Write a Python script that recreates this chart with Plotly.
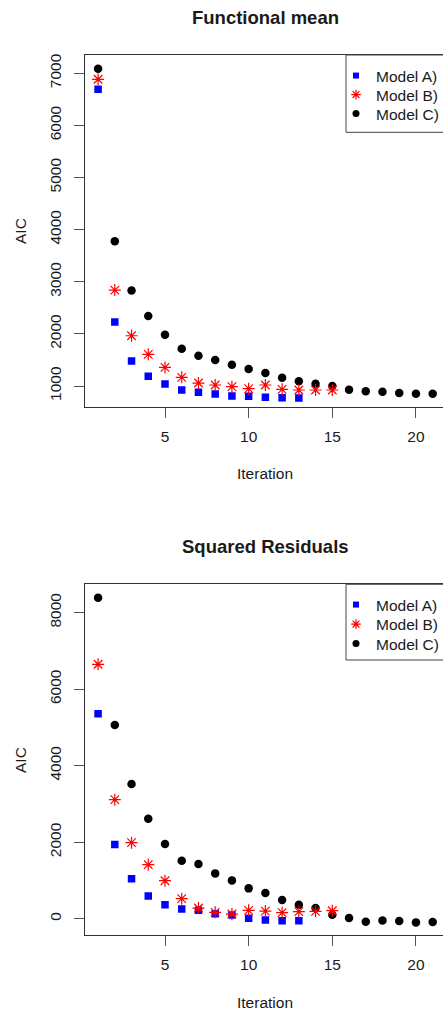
import plotly.graph_objects as go

# ---------------- data ----------------
iter_a = list(range(1, 14))
iter_b = list(range(1, 16))
iter_c = list(range(1, 22))

fm_a = [6693, 2226, 1479, 1185, 1038, 923, 879, 847, 808, 802, 783, 776, 770]
fm_b = [6885, 2840, 1964, 1607, 1357, 1166, 1057, 1019, 987, 949, 1019, 936, 923, 923, 923]
fm_c = [7088, 3778, 2833, 2341, 1983, 1715, 1581, 1498, 1409, 1326, 1249, 1160,
        1089, 1044, 1000, 930, 898, 891, 866, 853, 853]

sr_a = [5360, 1943, 1046, 592, 366, 253, 218, 131, 96, 9, -35, -52, -52]
sr_b = [6651, 3111, 1987, 1412, 993, 523, 279, 166, 122, 218, 200, 157, 183, 192, 209]
sr_c = [8392, 5064, 3521, 2614, 1952, 1516, 1429, 1185, 1002, 793, 671, 488, 366,
        279, 105, 17, -78, -44, -61, -96, -87]

model_names = ["Model A)", "Model B)", "Model C)"]
titles = ["Functional mean", "Squared Residuals"]
x_ticks = [5, 10, 15, 20]
y_ticks_top = [1000, 2000, 3000, 4000, 5000, 6000, 7000]
y_ticks_bot = [0, 2000, 4000, 6000, 8000]

# ---------------- styling ----------------
W, H = 443, 1015
FONT = "Liberation Sans, Arial, sans-serif"
TXT = "#1a1a1a"
BLUE, RED, BLACK = "#0000ff", "#ff0000", "#000000"

def px_x(p):
    return p / W

def px_y(p):
    return 1 - p / H

fig = go.Figure()

legend_specs = [dict(symbol="square", size=6, color=BLUE),
                dict(symbol="asterisk-open", size=8, color=RED, line=dict(color=RED, width=1.2)),
                dict(symbol="circle", size=7, color=BLACK)]

def add_panel(xa, ya, a, b, c, legend_ids):
    fig.add_trace(go.Scatter(x=iter_c, y=c, mode="markers", xaxis=xa, yaxis=ya,
                             marker=dict(symbol="circle", size=8.5, color=BLACK),
                             showlegend=False))
    fig.add_trace(go.Scatter(x=iter_a, y=a, mode="markers", xaxis=xa, yaxis=ya,
                             marker=dict(symbol="square", size=7.5, color=BLUE),
                             showlegend=False))
    fig.add_trace(go.Scatter(x=iter_b, y=b, mode="markers", xaxis=xa, yaxis=ya,
                             marker=dict(symbol="asterisk-open", size=10,
                                         color=RED, line=dict(color=RED, width=1.2)),
                             showlegend=False))
    # legend entries (one legend per row, for R-like row spacing)
    for name, m, lid in zip(model_names, legend_specs, legend_ids):
        fig.add_trace(go.Scatter(x=[None], y=[None], mode="markers", xaxis=xa, yaxis=ya,
                                 marker=m, name=name, legend=lid, showlegend=True))

top_legends = ["legend", "legend2", "legend3"]
bot_legends = ["legend4", "legend5", "legend6"]
add_panel("x", "y", fm_a, fm_b, fm_c, top_legends)
add_panel("x2", "y2", sr_a, sr_b, sr_c, bot_legends)

x_left = 84.7
x_dom = [px_x(x_left), 1.0]
x_range = [0.2, 0.2 + (W - x_left) / 16.73]

top_px = (55, 407)
bot_px = (584.3, 935)

axis_common = dict(showline=True, linecolor="#333333", linewidth=1,
                   ticks="outside", ticklen=10, tickcolor="#555555", tickwidth=1,
                   showgrid=False, zeroline=False,
                   tickfont=dict(family=FONT, size=15.5, color=TXT))

legend_common = dict(xanchor="left", yanchor="top",
                     bgcolor="rgba(0,0,0,0)", borderwidth=0,
                     font=dict(family=FONT, size=15.5, color=TXT), tracegroupgap=0,
                     itemsizing="trace")

layout_legends = {}
for lid, row in zip(top_legends, [75, 94, 113]):
    layout_legends[lid] = dict(x=px_x(336), y=px_y(row - 16), **legend_common)
for lid, row in zip(bot_legends, [604, 623.5, 643]):
    layout_legends[lid] = dict(x=px_x(336), y=px_y(row - 16), **legend_common)

fig.update_layout(
    width=W, height=H,
    margin=dict(l=0, r=0, t=0, b=0, autoexpand=False),
    paper_bgcolor="white", plot_bgcolor="white",
    template="none",
    xaxis=dict(domain=x_dom, range=x_range, anchor="y", tickvals=x_ticks,
               mirror=True, ticklabelstandoff=5, **axis_common),
    yaxis=dict(domain=[px_y(top_px[1]), px_y(top_px[0])], range=[597, 7351],
               anchor="x", tickvals=y_ticks_top, tickangle=-90, ticklabelstandoff=7,
               **axis_common),
    xaxis2=dict(domain=x_dom, range=x_range, anchor="y2", tickvals=x_ticks,
                mirror=True, ticklabelstandoff=5, **axis_common),
    yaxis2=dict(domain=[px_y(bot_px[1]), px_y(bot_px[0])], range=[-426, 8742],
                anchor="x2", tickvals=y_ticks_bot, tickangle=-90, ticklabelstandoff=7,
                **axis_common),
    showlegend=True,
    **layout_legends,
)

# legend frames (right side runs off the page, as in the reference)
for top, bottom in [(55, 132.3), (584.3, 660)]:
    fig.add_shape(type="rect", xref="paper", yref="paper",
                  x0=px_x(346), x1=px_x(W + 10), y0=px_y(bottom), y1=px_y(top),
                  line=dict(color="#444444", width=1), fillcolor="white", layer="above")

cx = px_x((x_left + 446) / 2)
annots = [
    dict(text="<b>%s</b>" % titles[0], x=cx, y=px_y(18), font=dict(size=18.5)),
    dict(text="<b>%s</b>" % titles[1], x=cx, y=px_y(546), font=dict(size=18.5)),
    dict(text="AIC", x=px_x(20), y=px_y(231), textangle=-90),
    dict(text="AIC", x=px_x(20), y=px_y(760), textangle=-90),
    dict(text="Iteration", x=px_x(265), y=px_y(474)),
    dict(text="Iteration", x=px_x(265), y=px_y(1002.5)),
]
for a in annots:
    f = dict(family=FONT, size=15.5, color=TXT)
    f.update(a.pop("font", {}))
    fig.add_annotation(xref="paper", yref="paper", xanchor="center", yanchor="middle",
                       showarrow=False, font=f, **a)

fig.write_html(
    "out.html",
    config={"displayModeBar": False},
    post_script="document.body.style.margin='0px';document.body.style.overflow='hidden';",
)
